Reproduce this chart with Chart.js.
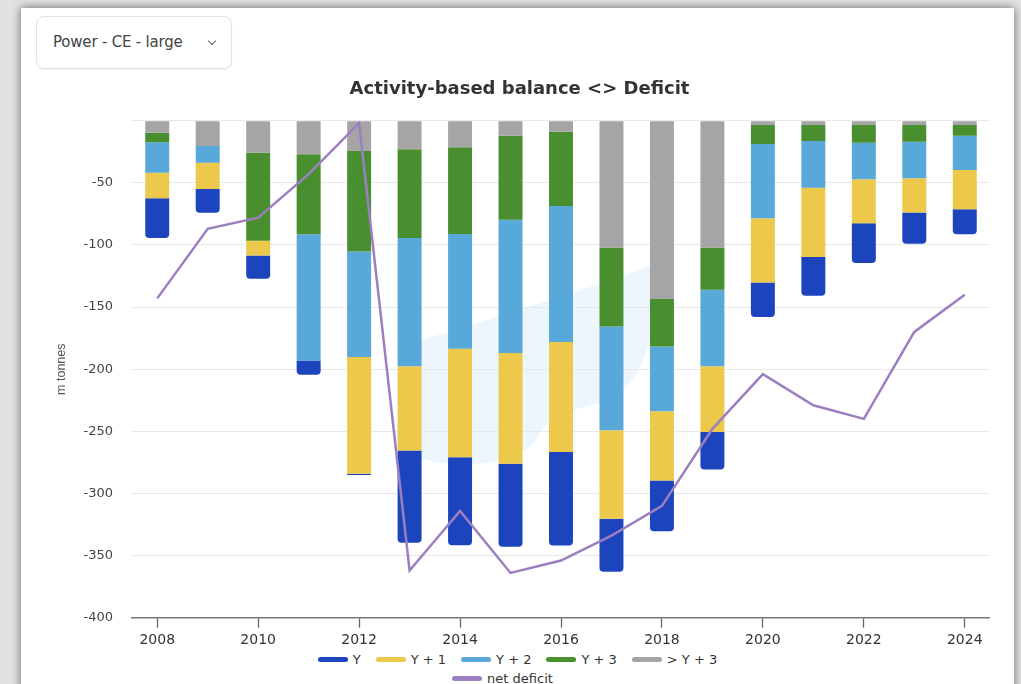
<!DOCTYPE html>
<html>
<head>
<meta charset="utf-8">
<script src="https://cdn.jsdelivr.net/npm/chart.js@4/dist/chart.umd.min.js"></script>
<style>
    body { margin: 0; width: 1021px; height: 684px; overflow: hidden; background: #e2e2e2; position: relative; }
    .card { position: absolute; left: 21px; top: 8px; width: 993px; height: 700px; background: #fff; box-shadow: 0 0 9px rgba(0,0,0,0.55); }
    .select { position: absolute; left: 36px; top: 16px; width: 194px; height: 51px; border: 1px solid #e2e2e2; border-radius: 8px;
              box-shadow: 0 1px 2px rgba(0,0,0,0.06); font-family: "DejaVu Sans", sans-serif; font-size: 15px; color: #444; }
    .select span { position: absolute; left: 16px; top: 16px; letter-spacing: -0.2px; }
    .select i { position: absolute; left: 172px; top: 21px; width: 5px; height: 5px; border-right: 1.3px solid #666; border-bottom: 1.3px solid #666; transform: rotate(45deg); }
    .mark { position: absolute; left: 0; top: 0; }
    #chart-box { position: absolute; left: 49px; top: 0; width: 941px; height: 650px; }
    #legend-container { position: absolute; left: 21px; top: 650px; width: 993px; font-family: "DejaVu Sans", sans-serif; }
</style>
</head>
<body>
<div class="card"></div>
<div class="select"><span>Power - CE - large</span><i></i></div>
<svg class="mark" width="1021" height="684">
    <path d="M415 342 C480 322 580 292 650 266 C662 330 642 392 602 402 C572 410 546 416 536 440 C520 466 452 470 420 458 Z" fill="#e8f3fc" opacity="0.75"/>
</svg>
<div id="chart-box"><canvas id="chart"></canvas></div>
<div id="legend-container"></div>
<script>
const years = ['2008', '2009', '2010', '2011', '2012', '2013', '2014', '2015', '2016',
               '2017', '2018', '2019', '2020', '2021', '2022', '2023', '2024'];
// 스택 순서: 0 에서 가까운 것부터 (> Y+3 -> Y)
const overY3 = [-9.6, -20.3, -25.7, -27, -24.4, -23, -21.4, -12.1, -8.8, -102.1, -143.6, -102.1, -3.5, -3.5, -3.5, -3.5, -3.5];
const yearY3 = [-7.8, 0, -71, -64.3, -80.9, -71.5, -69.7, -67.7, -59.8, -63.5, -38.1, -34, -15.2, -12.8, -14.2, -13.4, -8.6];
const yearY2 = [-24.4, -13.5, 0, -101.6, -84.9, -103.2, -92.4, -107.2, -109.5, -83.6, -52.2, -61.6, -59.8, -37.6, -29.4, -29.4, -27.5];
const yearY1 = [-20.6, -21.1, -11.8, 0, -94, -67.8, -87.4, -89, -88.5, -71.2, -55.7, -52.8, -51.7, -55.7, -35.4, -27.6, -31.6];
const yearY = [-32.1, -19.1, -18.8, -11.5, -1, -74.2, -70.7, -66.9, -75.3, -42.6, -40.8, -30.3, -27.8, -31.3, -32.1, -25.2, -20.1];
const netDeficit = [-143, -87, -78, -43, -2, -362, -314, -364, -354, -334, -310, -248, -204, -229, -240, -170, -140];
const yMin = -400;
const yMax = 0;
const yStep = 50;

const colors = {
    y: '#1c45bd',
    y1: '#ecc94b',
    y2: '#58a9d9',
    y3: '#4a8f2f',
    over: '#a5a5a5',
    net: '#9b7fc1'
};

Chart.defaults.font.family = '"DejaVu Sans", sans-serif';
Chart.defaults.color = '#333';

//레전드 (막대 한 줄, 선 한 줄)
const htmlLegendPlugin = {
    id: 'htmlLegend',
    afterUpdate(chart, args, options) {
        const box = document.getElementById(options.containerID);
        box.innerHTML = '';
        const items = chart.options.plugins.legend.labels.generateLabels(chart);
        const bars = items.filter(it => chart.data.datasets[it.datasetIndex].type !== 'line').reverse();
        const lines = items.filter(it => chart.data.datasets[it.datasetIndex].type === 'line');

        [bars, lines].forEach((group, r) => {
            const row = document.createElement('div');
            row.style.display = 'flex';
            row.style.justifyContent = 'center';
            row.style.gap = '15px';
            row.style.height = '19px';
            row.style.alignItems = 'center';
            if (r === 1) row.style.paddingRight = '30px';

            group.forEach(item => {
                const ds = chart.data.datasets[item.datasetIndex];
                const li = document.createElement('div');
                li.style.display = 'flex';
                li.style.alignItems = 'center';
                li.style.gap = '5px';

                const keyBox = document.createElement('span');
                keyBox.style.background = ds.type === 'line' ? ds.borderColor : ds.backgroundColor;
                keyBox.style.width = '30px';
                keyBox.style.height = '5px';
                keyBox.style.borderRadius = '3px';
                keyBox.style.display = 'inline-block';

                const text = document.createElement('span');
                text.style.color = '#333';
                text.style.fontSize = '13px';
                text.textContent = item.text;

                li.appendChild(keyBox);
                li.appendChild(text);
                row.appendChild(li);
            });
            box.appendChild(row);
        });
    }
};

function barSet(label, data, color) {
    return {
        label,
        data,
        backgroundColor: color,
        borderRadius: 4,
        borderSkipped: 'start',
        categoryPercentage: 0.5,
        barPercentage: 0.95,
        order: 1
    };
}

const ctx = document.getElementById('chart');
new Chart(ctx, {
    type: 'bar',
    data: {
        labels: years,
        datasets: [
            {
                type: 'line',
                label: 'net deficit',
                data: netDeficit,
                borderColor: colors.net,
                backgroundColor: colors.net,
                borderWidth: 2.5,
                pointRadius: 0,
                tension: 0,
                fill: false,
                order: 0
            },
            barSet('> Y + 3', overY3, colors.over),
            barSet('Y + 3', yearY3, colors.y3),
            barSet('Y + 2', yearY2, colors.y2),
            barSet('Y + 1', yearY1, colors.y1),
            barSet('Y', yearY, colors.y)
        ]
    },
    options: {
        responsive: true,
        maintainAspectRatio: false,
        animation: false,
        layout: { padding: 0 },
        plugins: {
            legend: { display: false },
            tooltip: { enabled: false },
            title: {
                display: true,
                text: 'Activity-based balance <> Deficit',
                color: '#333',
                font: { size: 18, weight: 'bold' },
                padding: { top: 78.2, bottom: 20.9 }
            },
            htmlLegend: { containerID: 'legend-container' }
        },
        scales: {
            x: {
                stacked: true,
                afterFit(s) { s.height = 32.3; },
                grid: {
                    offset: false,
                    drawOnChartArea: false,
                    tickLength: 10,
                    tickWidth: 1.3,
                    tickColor: c => (c.index % 2 ? 'rgba(0,0,0,0)' : '#666')
                },
                border: { color: '#777', width: 1.5 },
                ticks: {
                    autoSkip: false,
                    maxRotation: 0,
                    padding: 4,
                    color: '#333',
                    font: { size: 14 },
                    callback: (v, i) => (i % 2 ? '' : years[i])
                }
            },
            y: {
                stacked: true,
                min: yMin,
                max: yMax,
                afterFit(s) { s.width = 83; },
                grid: { color: '#e8e8e8', drawTicks: false },
                border: { display: false },
                ticks: {
                    stepSize: yStep,
                    padding: 19,
                    color: '#444',
                    font: { size: 13 },
                    callback: v => (v === 0 ? '' : v)
                },
                title: {
                    display: true,
                    text: 'm tonnes',
                    color: '#555',
                    font: { family: '"Liberation Sans", Arial, sans-serif', size: 12.5 },
                    padding: { top: 5.5, bottom: 0 }
                }
            }
        }
    },
    plugins: [htmlLegendPlugin]
});
</script>
</body>
</html>
